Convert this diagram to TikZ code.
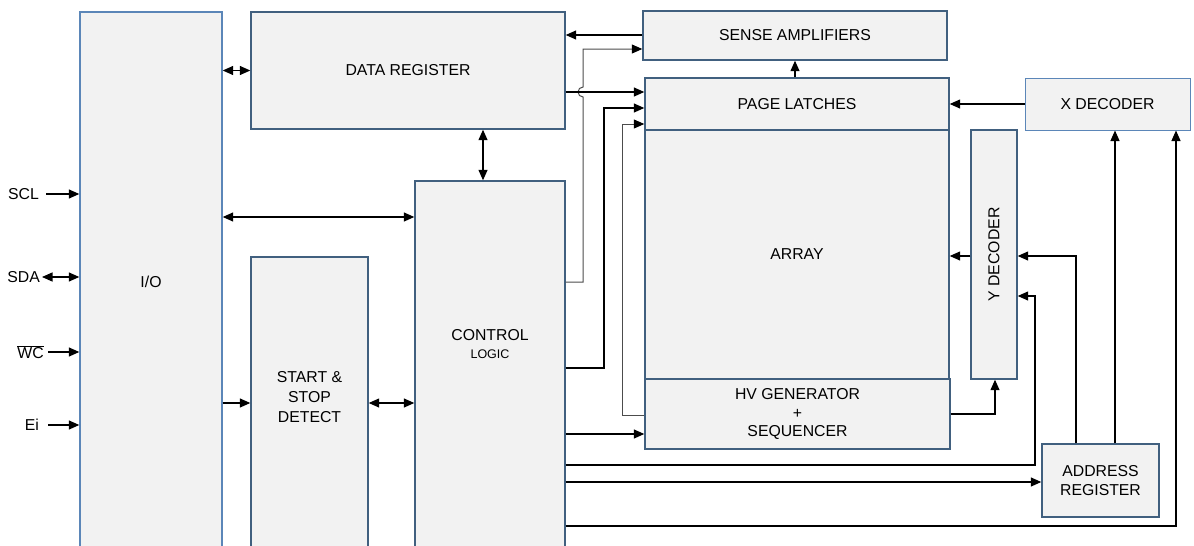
\documentclass[tikz,border=0pt]{standalone}
\usepackage{fontspec}
\setmainfont{Liberation Sans}
\usepackage{xcolor}
\usepackage{tikz}
\usetikzlibrary{arrows.meta}
\definecolor{boxfill}{HTML}{F2F2F2}
\definecolor{boxedge}{HTML}{41607F}
\definecolor{lightedge}{HTML}{5B86B8}

\begin{document}
\begin{tikzpicture}[x=1pt, y=-1pt,
  blk/.style={rectangle, draw=boxedge, line width=1.4pt, fill=boxfill, inner sep=0pt, font=\fontsize{15.8}{18.5}\selectfont, align=center},
  lbl/.style={font=\fontsize{15.8}{18.5}\selectfont, align=center},
  wire/.style={line width=1.3pt, >={Triangle[length=10.5pt,width=9pt]}},
  thinwire/.style={line width=1pt, draw=black!70, -{Triangle[length=10.5pt,width=9pt,black]}}]
\useasboundingbox (0,0) rectangle (1194,546);
\clip (0,0) rectangle (1194,546);
% blocks
\node[blk, draw=lightedge, minimum width=142pt, minimum height=540pt] (io) at (151,282) {I/O};
\node[blk, minimum width=314pt, minimum height=117pt] (datareg) at (408,70.5) {DATA REGISTER};
\node[blk, minimum width=150pt, minimum height=379pt] (ctrl) at (490,370.5) {};
\node[blk, minimum width=117pt, minimum height=303pt] (startstop) at (309.5,408.5) {};
\node[blk, minimum width=304pt, minimum height=49pt] (senseamp) at (795,35.5) {SENSE AMPLIFIERS};
\node[blk, minimum width=304pt, minimum height=52pt] (pagelatch) at (797,104) {PAGE LATCHES};
\node[blk, minimum width=304pt, minimum height=249pt] (array) at (797,254.5) {ARRAY};
\node[blk, minimum width=305pt, minimum height=70pt] (hvgen) at (797.5,414) {HV GENERATOR\\+\\SEQUENCER};
\node[blk, minimum width=46pt, minimum height=249pt] (ydec) at (994,254.5) {\rotatebox{90}{Y DECODER}};
\node[blk, draw=lightedge, line width=1pt, minimum width=165pt, minimum height=52pt] (xdec) at (1107.5,104) {X DECODER};
\node[blk, minimum width=117pt, minimum height=73pt] (addrreg) at (1100.5,480.5) {ADDRESS\\REGISTER};
\node[lbl, font=\fontsize{15.8}{20}\selectfont] (text0) at (309.5,397) {START \&\\STOP\\DETECT};
\node[lbl] (text1) at (490,344) {CONTROL\\[-0.5pt]{\fontsize{12.5}{14}\selectfont LOGIC}};
% pins
\node[lbl, anchor=east, inner sep=2pt] (scl) at (41,194) {SCL};
\node[lbl, anchor=east, inner sep=0pt] (sda) at (40,277) {SDA};
\node[lbl, anchor=east, inner sep=2pt] (wc) at (46,352) {$\overline{\mbox{WC}}$};
\node[lbl, anchor=east, inner sep=2pt] (ei) at (41,425) {Ei};
\draw[wire, ->] ([xshift=5pt]scl.east) -- (io.west |- scl.east);
\draw[wire, <->] ([xshift=2pt]sda.east) -- (io.west |- sda.east);
\draw[wire, ->] ([xshift=2pt]wc.east) -- (io.west |- wc.east);
\draw[wire, ->] ([xshift=7pt]ei.east) -- (io.west |- ei.east);
% connections
\draw[wire, <->] (io.east |- datareg.west) -- (datareg.west);
\draw[wire, <->] (io.east |- 0,217) -- (ctrl.west |- 0,217);
\draw[wire, ->] (io.east |- 0,403) -- (startstop.west |- 0,403);
\draw[wire, <->] (startstop.east |- 0,403) -- (ctrl.west |- 0,403);
\draw[wire, <->] (datareg.south -| 483,0) -- (ctrl.north -| 483,0);
\draw[wire, ->] (senseamp.west |- 0,35) -- (datareg.east |- 0,35);
\draw[thinwire] (ctrl.east |- 0,282) -| (583,97) arc[start angle=90, end angle=270, radius=5] -- (583,49) -- (senseamp.west |- 0,49);
\draw[wire, ->] (datareg.east |- 0,92) -- (pagelatch.west |- 0,92);
\draw[wire, ->] (ctrl.east |- 0,368) -| (604,108) -- (pagelatch.west |- 0,108);
\draw[thinwire] (hvgen.west |- 0,415) -| (622,124) -- (pagelatch.west |- 0,124);
\draw[wire, ->] (ctrl.east |- 0,434) -- (hvgen.west |- 0,434);
\draw[wire, ->] (pagelatch.north -| 795,0) -- (senseamp.south -| 795,0);
\draw[wire, ->] (xdec.west) -- (pagelatch.east);
\draw[wire, ->] (ydec.west |- 0,256) -- (array.east |- 0,256);
\draw[wire, ->] (addrreg.north -| 1076,0) |- (ydec.east |- 0,256);
\draw[wire, ->] (ctrl.east |- 0,465) -| (1035,296) -- (ydec.east |- 0,296);
\draw[wire, ->] (ctrl.east |- 0,482) -- (addrreg.west |- 0,482);
\draw[wire, ->] (addrreg.north -| 1115,0) -- (xdec.south -| 1115,0);
\draw[wire, ->] (ctrl.east |- 0,526) -| (xdec.south -| 1176,0);
\draw[wire, ->] (hvgen.east |- 0,414) -| (ydec.south -| 995,0);
\end{tikzpicture}
\end{document}
